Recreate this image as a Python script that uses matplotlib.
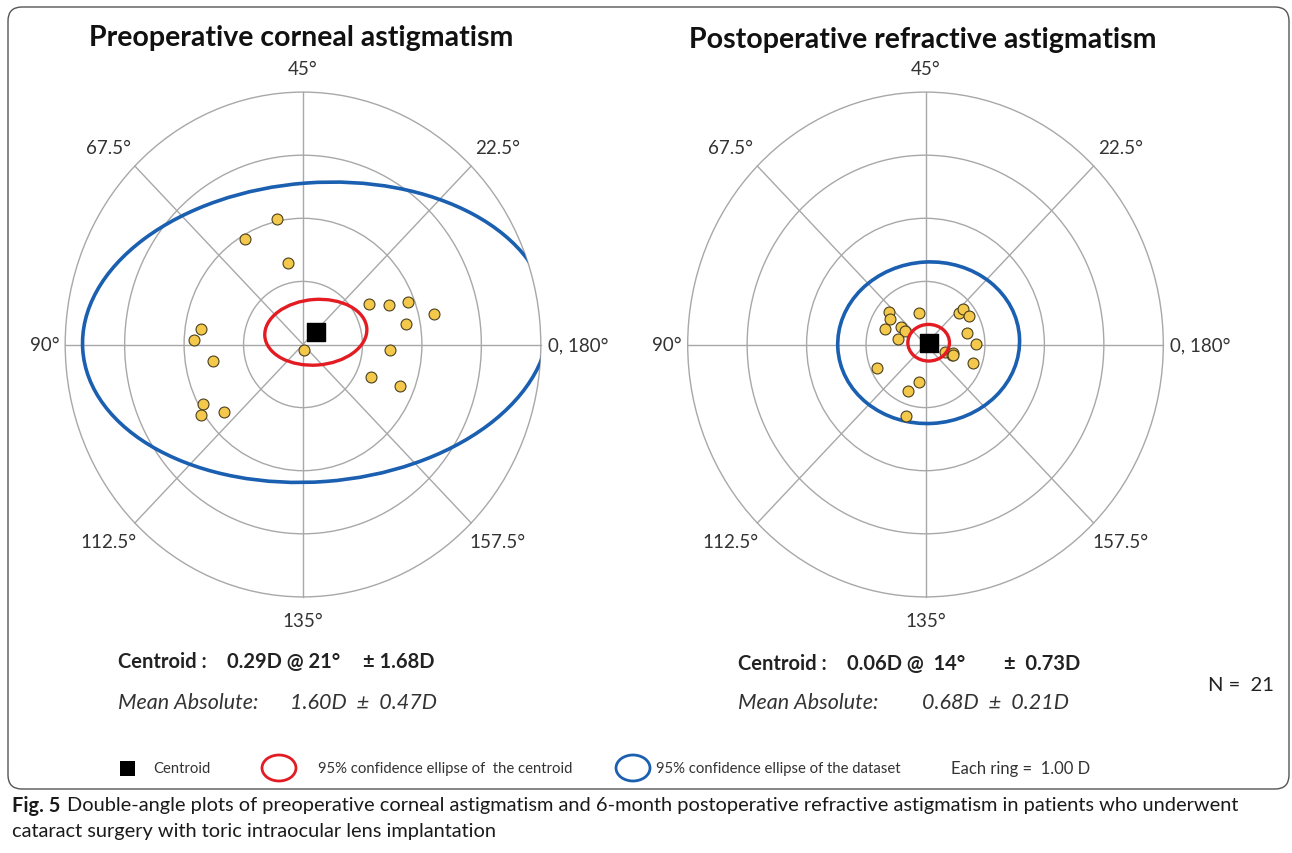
import numpy as np
import matplotlib
matplotlib.use("Agg")
import matplotlib.pyplot as plt
from matplotlib.patches import Circle, Ellipse, FancyBboxPatch

W, H = 1292, 854
plt.rcParams['font.family'] = ['Lato', 'DejaVu Sans']

# double-angle components of each eye (D): x = M*cos(2*axis), y = M*sin(2*axis)
pre_x = [-0.44, -0.98, -0.26, 1.11, 1.45, 1.76, 2.21, 1.74, -1.71, -1.84,
         -1.51, 0.01, 1.46, 1.15, 1.64, -1.69, -1.71, -1.33]
pre_y = [1.99, 1.67, 1.29, 0.64, 0.62, 0.67, 0.49, 0.32, 0.25, 0.07,
         -0.26, -0.08, -0.09, -0.52, -0.66, -0.95, -1.12, -1.07]

post_x = [-0.62, -0.60, -0.68, -0.42, -0.35, -0.47, -0.11, 0.56, 0.63, 0.74,
          0.70, 0.85, 0.80, 0.33, 0.44, 0.46, -0.81, -0.11, -0.30, -0.32, 0.47]
post_y = [0.51, 0.40, 0.25, 0.27, 0.21, 0.09, 0.50, 0.50, 0.57, 0.45,
          0.19, 0.01, -0.29, -0.12, -0.16, -0.13, -0.38, -0.60, -0.73, -1.14, -0.17]

# centroid: magnitude (D), axis (deg)
pre_centroid = (0.29, 21)
post_centroid = (0.06, 14)

# 95% ellipses: semi-axis x, semi-axis y (D), tilt (deg)
pre_ell_centroid = (0.86, 0.52, 4)
pre_ell_data = (3.93, 2.37, 4)
post_ell_centroid = (0.35, 0.29, 0)
post_ell_data = (1.53, 1.28, 3)

titles = ["Preoperative corneal astigmatism", "Postoperative refractive astigmatism"]
angle_labels = ["0, 180°", "22.5°", "45°", "67.5°", "90°", "112.5°", "135°", "157.5°"]

n_rings = 4
lim = 4.3
px_x, px_y = 59.45, 63.1   # pixels per dioptre (the source is stretched vertically)

fig = plt.figure(figsize=(W / 100, H / 100), dpi=100)

# background with rounded frame
bg = fig.add_axes([0, 0, 1, 1])
bg.set_xlim(0, W)
bg.set_ylim(H, 0)
bg.axis('off')
bg.add_patch(FancyBboxPatch((8, 8), 1281, 782, boxstyle="round,pad=0,rounding_size=14",
                            fc='white', ec='#555555', lw=1.0))


def make_axes(cx, cy):
    x0 = (cx - lim * px_x) / W
    y0 = 1 - (cy + lim * px_y) / H
    ax = fig.add_axes([x0, y0, 2 * lim * px_x / W, 2 * lim * px_y / H])
    ax.set_xlim(-lim, lim)
    ax.set_ylim(-lim, lim)
    ax.set_aspect('auto')
    ax.axis('off')
    return ax


def draw_plot(ax, xs, ys, centroid, ell_c, ell_d):
    grid = '#a8a8a8'
    for r in range(1, n_rings + 1):
        ax.add_patch(Circle((0, 0), r, fill=False, ec=grid, lw=1.0, zorder=1))
    for a in [0, 45, 90, 135]:
        t = np.radians(a)
        ax.plot([-n_rings * np.cos(t), n_rings * np.cos(t)],
                [-n_rings * np.sin(t), n_rings * np.sin(t)],
                color=grid, lw=1.0, zorder=1)

    # angle labels
    lk = dict(fontsize=13.5, color='#333333', va='center')
    for i, lab in enumerate(angle_labels):
        t = np.radians(45 * i)
        if i == 0:
            ax.text(4.12, 0, lab, ha='left', **lk)
        elif i == 4:
            ax.text(-4.1, 0, lab, ha='right', **lk)
        elif i in (2, 6):
            ax.text(0, 4.37 * np.sign(np.sin(t)), lab, ha='center', **lk)
        else:
            ax.text(3.28 * np.sign(np.cos(t)), 3.12 * np.sign(np.sin(t)), lab,
                    ha='center', **lk)

    outer = Circle((0, 0), n_rings, transform=ax.transData)

    ax.scatter(xs, ys, s=62, c='#f3c84b', edgecolors='#4a4020', linewidths=0.8, zorder=4)

    m, axis = centroid
    cxv = m * np.cos(np.radians(2 * axis))
    cyv = m * np.sin(np.radians(2 * axis))

    e1 = Ellipse((cxv, cyv), 2 * ell_d[0], 2 * ell_d[1], angle=ell_d[2],
                 fill=False, ec='#1a5fb0', lw=2.6, zorder=3)
    ax.add_patch(e1)
    e1.set_clip_path(outer)
    e2 = Ellipse((cxv, cyv), 2 * ell_c[0], 2 * ell_c[1], angle=ell_c[2],
                 fill=False, ec='#e31b23', lw=2.4, zorder=5)
    ax.add_patch(e2)
    ax.scatter([cxv], [cyv], s=150, marker='s', c='black', zorder=6)


ax1 = make_axes(303, 345.5)
draw_plot(ax1, pre_x, pre_y, pre_centroid, pre_ell_centroid, pre_ell_data)
ax2 = make_axes(925.5, 345.5)
draw_plot(ax2, post_x, post_y, post_centroid, post_ell_centroid, post_ell_data)


def ftext(x, y, s, **kw):
    return fig.text(x / W, 1 - y / H, s, **kw)


ftext(301, 38, titles[0], ha='center', va='center', fontsize=20.5, fontweight='bold', color='#111111')
ftext(923, 40, titles[1], ha='center', va='center', fontsize=20.5, fontweight='bold', color='#111111')

# statistics
sc = '#222222'
bk = dict(ha='left', va='center', fontsize=14.5, fontweight='bold', color=sc)
it = dict(ha='left', va='center', fontsize=15.5, style='italic', color='#333333')
ftext(118, 662, "Centroid :", **bk)
ftext(227, 662, "0.29D @ 21°", **bk)
ftext(363, 662, "± 1.68D", **bk)
ftext(118, 703, "Mean Absolute:", **it)
ftext(290, 703, "1.60D  ±  0.47D", **it)

ftext(738, 664, "Centroid :", **bk)
ftext(847, 664, "0.06D @  14°", **bk)
ftext(1004, 664, "±  0.73D", **bk)
ftext(738, 703, "Mean Absolute:", **it)
ftext(922, 703, "0.68D  ±  0.21D", **it)
ftext(1208, 686, "N =  21", ha='left', va='center', fontsize=14.5, color=sc)

# legend row
bg.add_patch(plt.Rectangle((120, 762), 15, 15, fc='black', ec='none'))
bg.add_patch(Ellipse((279, 769), 34, 26, fill=False, ec='#e31b23', lw=2.0))
bg.add_patch(Ellipse((633, 769), 34, 26, fill=False, ec='#1a5fb0', lw=2.0))
lk = dict(ha='left', va='center', fontsize=10.75, color='#333333')
bg.text(153, 769, "Centroid", **lk)
bg.text(318, 769, "95% confidence ellipse of  the centroid", **lk)
bg.text(656, 769, "95% confidence ellipse of the dataset", **lk)
bg.text(951, 769, "Each ring =  1.00 D", ha='left', va='center', fontsize=12, color='#333333')

# caption
fig.canvas.draw()
r = fig.canvas.get_renderer()
t0 = bg.text(12, 806, "Fig. 5", ha='left', va='center', fontsize=14.4, fontweight='bold', color='#1a1a1a')
bb = t0.get_window_extent(renderer=r)
bg.text(bb.x1 + 7, 806, "Double-angle plots of preoperative corneal astigmatism and 6-month postoperative "
        "refractive astigmatism in patients who underwent", ha='left', va='center', fontsize=14.4, color='#1a1a1a')
bg.text(12, 832, "cataract surgery with toric intraocular lens implantation", ha='left', va='center',
        fontsize=14.4, color='#1a1a1a')

fig.savefig("out.png", dpi=100)
